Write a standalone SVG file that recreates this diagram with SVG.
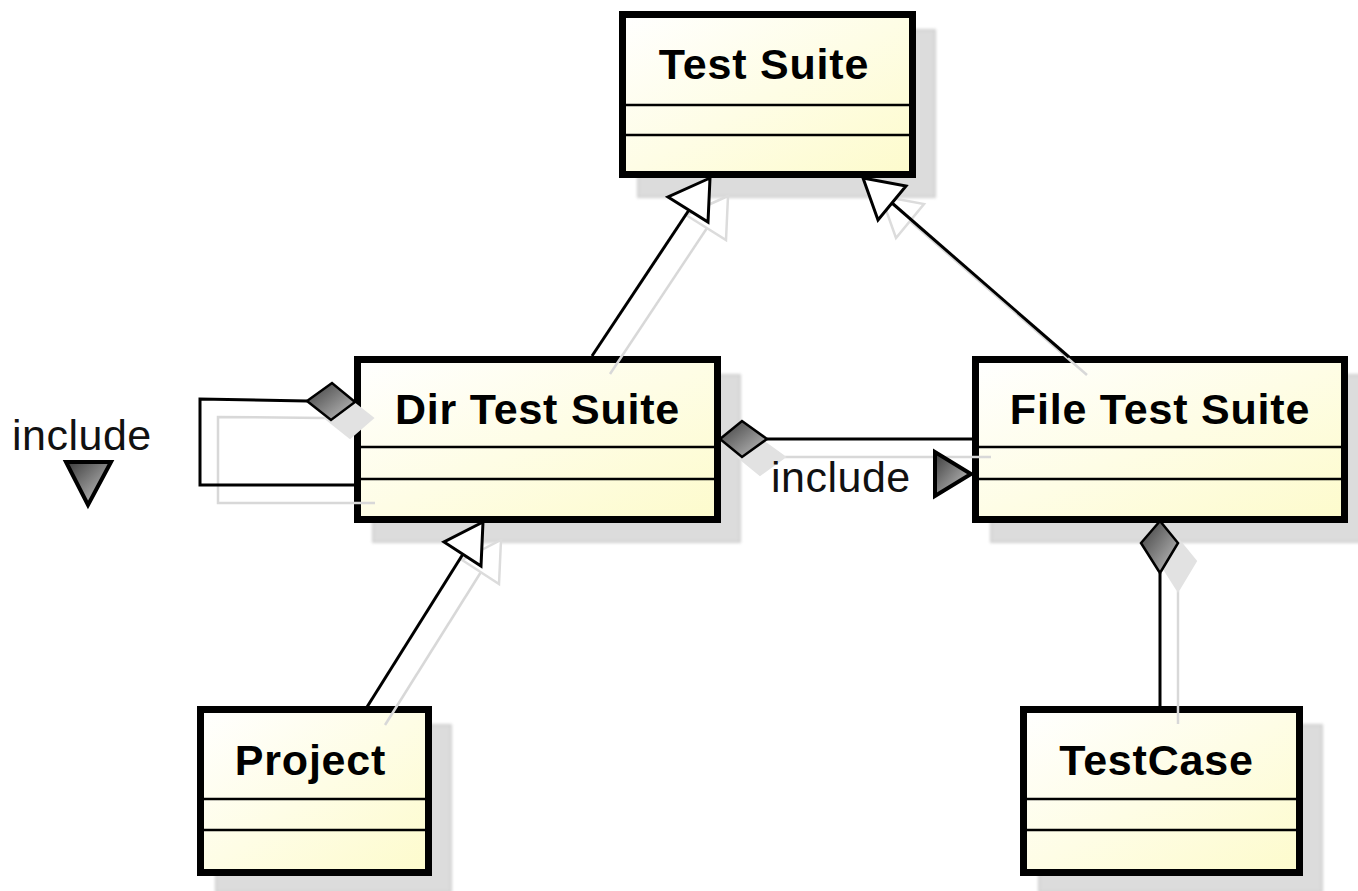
<svg xmlns="http://www.w3.org/2000/svg" width="1358" height="891" viewBox="0 0 1358 891">
<style>
.box{fill:url(#boxfill);stroke:#000;stroke-width:7}
.shadow{fill:#dcdcdc;stroke:#d0d0d0;stroke-width:2;filter:url(#blur)}
.div{stroke:#000;stroke-width:2.5}
.title{font-family:"Liberation Sans",Arial,sans-serif;font-weight:bold;font-size:43px;fill:#000;text-anchor:middle;letter-spacing:0.8px}
.lbl{font-family:"Liberation Sans",Arial,sans-serif;font-size:43px;fill:#111;letter-spacing:0.5px}
.ln{fill:none;stroke:#000;stroke-width:3}
.sln{fill:none;stroke:#d8d8d8;stroke-width:2.5}
.hollow{fill:#fff;stroke:#000;stroke-width:3;stroke-linejoin:miter}
.shollow{fill:#fff;stroke:#dcdcdc;stroke-width:2.5}
.dia{fill:url(#diafill);stroke:#000;stroke-width:2.5}
.sdia{fill:#e2e2e2;stroke:#e2e2e2;stroke-width:2}
.tri{fill:url(#trifill);stroke:#000;stroke-width:4;stroke-linejoin:miter}
</style>
<defs>
<linearGradient id="boxfill" x1="0" y1="0" x2="1" y2="1">
<stop offset="0" stop-color="#ffffff"/>
<stop offset="1" stop-color="#fdfbcc"/>
</linearGradient>
<linearGradient id="diafill" x1="0" y1="0" x2="1" y2="1">
<stop offset="0" stop-color="#3c3c3c"/>
<stop offset="1" stop-color="#c4c4c4"/>
</linearGradient>
<linearGradient id="trifill" x1="0" y1="0" x2="1" y2="1">
<stop offset="0" stop-color="#3a3a3a"/>
<stop offset="1" stop-color="#cfcfcf"/>
</linearGradient>
<filter id="blur" x="-10%" y="-10%" width="120%" height="120%">
<feGaussianBlur stdDeviation="1.5"/>
</filter>
</defs>
<rect width="1358" height="891" fill="#fff"/>

<g id="shadows">
<rect class="shadow" x="638" y="30" width="297" height="167"/>
<rect class="shadow" x="373" y="375" width="367" height="167"/>
<rect class="shadow" x="991" y="375" width="376" height="167"/>
<rect class="shadow" x="216" y="725" width="235" height="167"/>
<rect class="shadow" x="1039" y="725" width="283" height="167"/>
</g>

<g id="test-suite">
<rect class="box" x="622.5" y="14.5" width="290" height="160"/>
<line class="div" x1="622" y1="105" x2="913" y2="105"/>
<line class="div" x1="622" y1="135" x2="913" y2="135"/>
<text class="title" x="764" y="79">Test Suite</text>
</g>

<g id="dir-test-suite">
<rect class="box" x="357.5" y="359.5" width="360" height="160"/>
<line class="div" x1="357" y1="447" x2="718" y2="447"/>
<line class="div" x1="357" y1="479" x2="718" y2="479"/>
<text class="title" x="537.5" y="424">Dir Test Suite</text>
</g>

<g id="file-test-suite">
<rect class="box" x="975.5" y="359.5" width="369" height="160"/>
<line class="div" x1="975" y1="447" x2="1345" y2="447"/>
<line class="div" x1="975" y1="479" x2="1345" y2="479"/>
<text class="title" x="1160" y="424">File Test Suite</text>
</g>

<g id="project">
<rect class="box" x="200.5" y="709.5" width="228" height="163"/>
<line class="div" x1="200" y1="799" x2="429" y2="799"/>
<line class="div" x1="200" y1="830" x2="429" y2="830"/>
<text class="title" x="310.5" y="775">Project</text>
</g>

<g id="testcase">
<rect class="box" x="1023.5" y="709.5" width="276" height="163"/>
<line class="div" x1="1023" y1="799" x2="1300" y2="799"/>
<line class="div" x1="1023" y1="830" x2="1300" y2="830"/>
<text class="title" x="1156.5" y="775">TestCase</text>
</g>

<g id="connectors">
<g id="connector-shadows">
<polyline class="sln" points="325,418 218,417 218,503 375,503"/>
<polygon class="sdia" points="325,418 350,400 373,418 350,438"/>
<line class="sln" x1="785" y1="457" x2="991" y2="457"/>
<polygon class="sdia" points="738,457 760,439 785,457 760,475"/>
<line class="sln" x1="610" y1="374" x2="707" y2="228"/>
<polygon class="shollow" points="728,196 686,215 726,240"/>
<line class="sln" x1="1087" y1="375" x2="910" y2="221"/>
<polygon class="shollow" points="881,196 924,204 896,238"/>
<line class="sln" x1="385" y1="725" x2="481" y2="572"/>
<polygon class="shollow" points="501,540 462,560 499,584"/>
<line class="sln" x1="1178" y1="591" x2="1178" y2="724"/>
<polygon class="sdia" points="1178,539 1159,561 1178,591 1196,561"/>
</g>

<polyline class="ln" points="307,401 200,399 200,485 355,485"/>
<polygon class="dia" points="307,401 332,383 355,402 331,420"/>

<line class="ln" x1="767" y1="439" x2="973" y2="439"/>
<polygon class="dia" points="720,439 742,421 767,439 742,457"/>

<line class="ln" x1="592" y1="356" x2="689" y2="210"/>
<polygon class="hollow" points="710,178 668,197 708,222"/>

<line class="ln" x1="1069" y1="357" x2="892" y2="203"/>
<polygon class="hollow" points="863,178 906,186 878,220"/>

<line class="ln" x1="367" y1="707" x2="463" y2="554"/>
<polygon class="hollow" points="483,522 444,542 481,566"/>

<line class="ln" x1="1160" y1="573" x2="1160" y2="707"/>
<polygon class="dia" points="1160,521 1141,543 1160,573 1178,543"/>
</g>

<g id="labels">
<text class="lbl" x="12" y="450">include</text>
<polygon class="tri" points="66,462 111,462 88,505"/>
<text class="lbl" x="771" y="492">include</text>
<polygon class="tri" points="935,452 935,496 971,474"/>
</g>
</svg>
